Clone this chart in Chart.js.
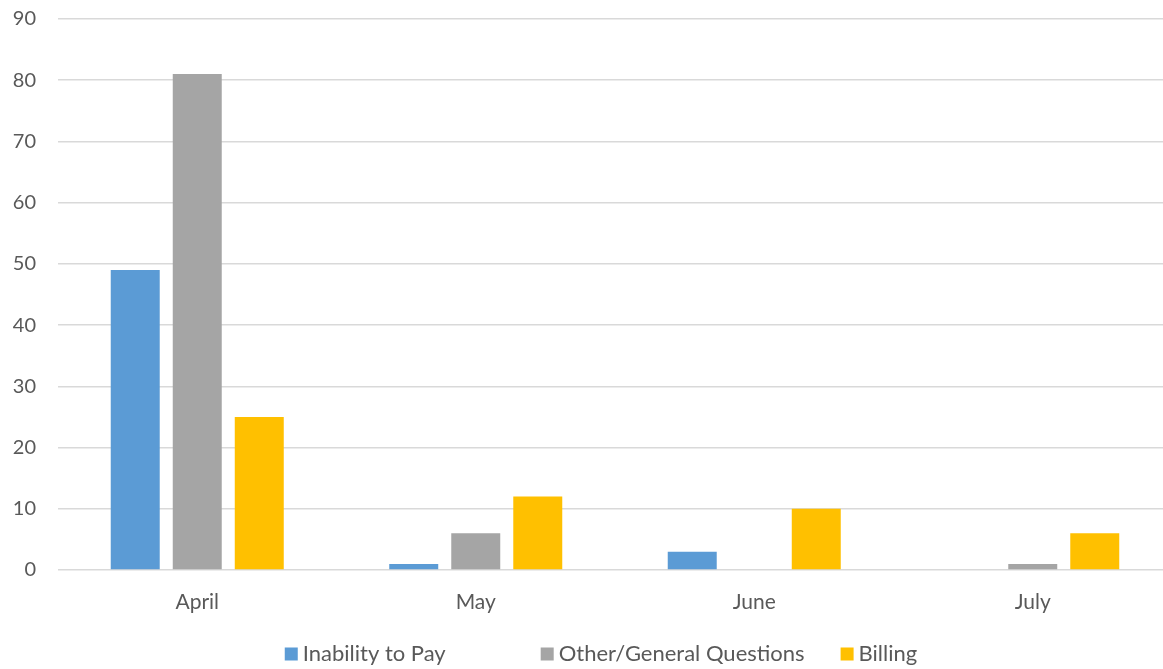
<!DOCTYPE html>
<html>
<head>
<meta charset="utf-8">
<script src="https://cdn.jsdelivr.net/npm/chart.js@4"></script>
<style>
  html, body { margin: 0; padding: 0; background: #fff; overflow: hidden; }
</style>
</head>
<body>
<canvas id="chart" width="1172" height="669"></canvas>
<script>
const months = ['April', 'May', 'June', 'July'];
const inabilityToPay = [49, 1, 3, 0];
const otherGeneral = [81, 6, 0, 1];
const billing = [25, 12, 10, 6];
const yTicks = [0, 10, 20, 30, 40, 50, 60, 70, 80, 90];

const seriesNames = ['Inability to Pay', 'Other/General Questions', 'Billing'];
const seriesColors = ['#5B9BD5', '#A5A5A5', '#FFC000'];
const textColor = '#595959';
const fontFamily = 'Lato, "Open Sans", sans-serif';

// legend drawn by hand so the uneven gaps between items can be matched
const bottomLegend = {
  id: 'bottomLegend',
  afterDraw(chart) {
    const ctx = chart.ctx;
    const box = 13, textGap = 5, itemGaps = [95, 36];
    ctx.save();
    ctx.font = '22px ' + fontFamily;
    ctx.textBaseline = 'middle';
    ctx.textAlign = 'left';
    const items = chart.data.datasets.map((ds) => ({
      label: ds.label,
      color: ds.backgroundColor,
      width: box + textGap + ctx.measureText(ds.label).width
    }));
    const total = items.reduce((s, it) => s + it.width, 0) + itemGaps.reduce((s, g) => s + g, 0);
    let x = (chart.width + 30) / 2 - total / 2;
    const y = chart.height - 15;
    items.forEach((it, i) => {
      ctx.fillStyle = it.color;
      ctx.fillRect(x, y - box / 2, box, box);
      ctx.fillStyle = textColor;
      ctx.fillText(it.label, x + box + textGap, y);
      x += it.width + (itemGaps[i] || 0);
    });
    ctx.restore();
  }
};

const datasets = [inabilityToPay, otherGeneral, billing].map((values, i) => ({
  label: seriesNames[i],
  data: values,
  backgroundColor: seriesColors[i],
  borderWidth: 0,
  categoryPercentage: 0.668,
  barPercentage: 0.79
}));

new Chart(document.getElementById('chart').getContext('2d'), {
  type: 'bar',
  data: {
    labels: months,
    datasets
  },
  options: {
    responsive: false,
    animation: false,
    layout: {
      padding: { top: 19, bottom: 39, left: 0, right: 0 }
    },
    plugins: {
      legend: { display: false },
      tooltip: { enabled: false }
    },
    scales: {
      x: {
        grid: { display: false },
        border: { display: false },
        ticks: {
          color: textColor,
          font: { family: fontFamily, size: 21 },
          padding: 12
        },
        afterFit: (scale) => { scale.height = 60; }
      },
      y: {
        min: yTicks[0],
        max: yTicks[yTicks.length - 1],
        afterBuildTicks: (scale) => {
          scale.ticks = yTicks.map((v) => ({ value: v }));
        },
        grid: {
          color: '#D9D9D9',
          lineWidth: 1.5,
          tickColor: 'rgba(0,0,0,0)',
          tickLength: 19
        },
        border: { display: false },
        ticks: {
          color: textColor,
          font: { family: fontFamily, size: 20 },
          padding: 3
        },
        afterFit: (scale) => { scale.width = 58; }
      }
    }
  },
  plugins: [bottomLegend]
});
</script>
</body>
</html>
